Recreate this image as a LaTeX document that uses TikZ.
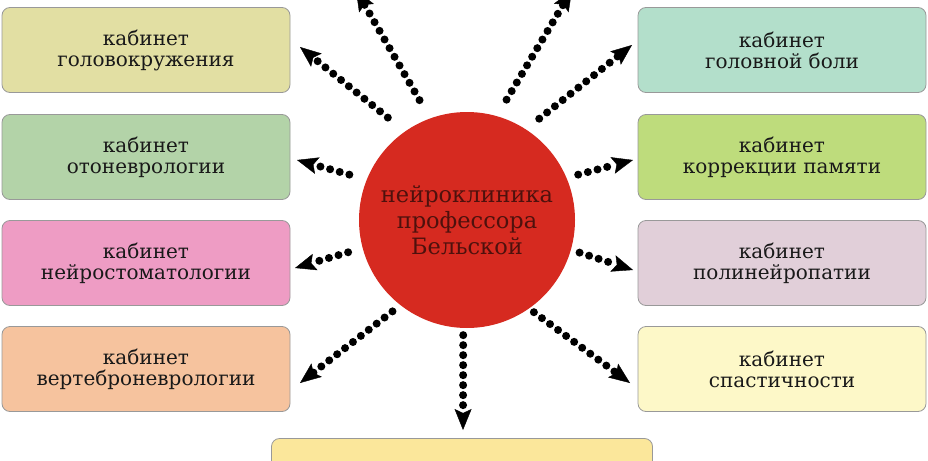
\documentclass[tikz,border=0pt]{standalone}
\usepackage{fontspec}
\setmainfont{DejaVu Serif}
\usetikzlibrary{arrows.meta}

\definecolor{cabA}{HTML}{E2DFA3}
\definecolor{cabB}{HTML}{B3D3A8}
\definecolor{cabC}{HTML}{EE9CC4}
\definecolor{cabD}{HTML}{F6C39E}
\definecolor{cabE}{HTML}{B3DFCB}
\definecolor{cabF}{HTML}{BEDC7C}
\definecolor{cabG}{HTML}{E1CFD9}
\definecolor{cabH}{HTML}{FDF8C8}
\definecolor{cabK}{HTML}{FBE79B}
\definecolor{hubred}{HTML}{D62A20}
\definecolor{hubtext}{HTML}{4E110D}

\begin{document}
\begin{tikzpicture}[x=1pt, y=-1pt,
    cab/.style = {draw=black!40, line width=0.8pt, rounded corners=8pt, minimum width=288pt, minimum height=85pt, align=center, font=\fontsize{20}{21}\selectfont, text=black!90},
    hub/.style = {circle, fill=hubred, minimum size=216pt, align=center, font=\fontsize{22.5}{26}\selectfont, text=hubtext},
    link/.style = {line width=8pt, line cap=round, dash pattern=on 0pt off 10pt, -{Stealth[length=21pt, width=17pt, inset=4pt, line width=0.4pt]}}]
                \useasboundingbox (0,0) rectangle (928,460);
                \clip (0,0) rectangle (928,460);

                \node[hub] at (467,220) (N) {нейроклиника\\профессора\\Бельской};

                \node[cab, fill=cabA] at (146,50) (A) {кабинет\\головокружения};
                \node[cab, fill=cabB] at (146,157) (B) {кабинет\\отоневрологии};
                \node[cab, fill=cabC] at (146,263) (C) {кабинет\\нейростоматологии};
                \node[cab, fill=cabD] at (146,369) (D) {кабинет\\вертеброневрологии};
                \node[cab, fill=cabE] at (782,50) (E) {кабинет\\головной боли};
                \node[cab, fill=cabF] at (782,157) (F) {кабинет\\коррекции памяти};
                \node[cab, fill=cabG] at (782,263) (G) {кабинет\\полинейропатии};
                \node[cab, fill=cabH] at (782,369) (H) {кабинет\\спастичности};
                \node[cab, fill=cabK, minimum width=381pt] at (462,481) (K) {};

                % arrow tips
                \coordinate (tU1) at (356,-10);
                \coordinate (tA) at (300,47);
                \coordinate (tB) at (297,160);
                \coordinate (tC) at (295,268);
                \coordinate (tD) at (300,383);
                \coordinate (tK) at (463,430);
                \coordinate (tH) at (630,383);
                \coordinate (tG) at (633,270);
                \coordinate (tF) at (633,160);
                \coordinate (tE) at (632,45);
                \coordinate (tU2) at (572,-10);

                \draw [link, shorten <=21pt] (N.110) -- (tU1);
                \draw [link, shorten <=22pt] (N.125) -- (tA);
                \draw [link, shorten <=18pt] (N.158) -- (tB);
                \draw [link, shorten <=15pt] (N.195) -- (tC);
                \draw [link, shorten <=10pt] (N.232) -- (tD);
                \draw [link, shorten <=7pt] (N.268) -- (tK);
                \draw [link, shorten <=6pt] (N.305) -- (tH);
                \draw [link, shorten <=9pt] (N.344) -- (tG);
                \draw [link, shorten <=12pt] (N.23) -- (tF);
                \draw [link, shorten <=17pt] (N.57) -- (tE);
                \draw [link, shorten <=19pt] (N.74) -- (tU2);
\end{tikzpicture}
\end{document}
